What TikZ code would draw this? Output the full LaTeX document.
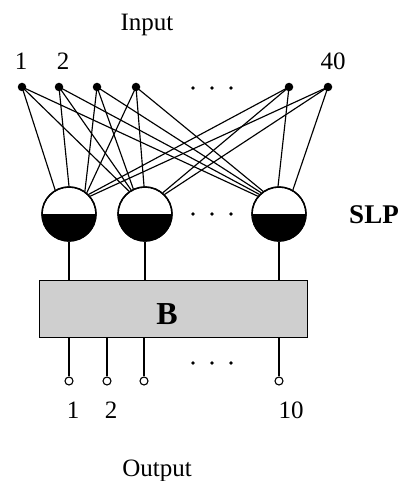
\documentclass[tikz,border=0pt]{standalone}
\usepackage{fontspec}
\setmainfont{Liberation Serif}
\begin{document}
\begin{tikzpicture}[x=1pt,y=-1pt,
  lbl/.style={anchor=base,inner sep=0pt,font=\fontsize{25}{30}\selectfont},
  bigl/.style={anchor=base,inner sep=0pt,font=\fontsize{27}{32}\selectfont\bfseries},
  indot/.style={circle,fill=black,inner sep=0pt,minimum size=8.5pt},
  smalldot/.style={circle,fill=black,inner sep=0pt,minimum size=3.8pt},
  outdot/.style={circle,draw=black,fill=white,line width=1.1pt,inner sep=0pt,minimum size=8pt},
  neuron/.style={circle,draw=black,line width=1.4pt,inner sep=0pt,minimum size=54pt},
  wire/.style={line width=1.15pt}]
\useasboundingbox (0,0) rectangle (408,481);
% labels
\node[lbl] (tin) at (147,31) {Input};
\node[lbl] (l1) at (21,70) {1};
\node[lbl] (l2) at (63,70) {2};
\node[lbl] (l40) at (333,70) {40};
\node[lbl] (o1l) at (73,418) {1};
\node[lbl] (o2l) at (111,418) {2};
\node[lbl] (o10l) at (291,418) {10};
\node[lbl] (tout) at (157,476) {Output};
\node[bigl] (slp) at (374,223) {SLP};
% input dots
\node[indot] (i1) at (22,87) {};
\node[indot] (i2) at (59,87) {};
\node[indot] (i3) at (97,87) {};
\node[indot] (i4) at (136,87) {};
\node[indot] (i39) at (289,87) {};
\node[indot] (i40) at (328,87) {};
\foreach \x/\n in {193/a,212/b,231/c}{
  \node[smalldot] (dt\n) at (\x,88) {};
  \node[smalldot] (dm\n) at (\x,214) {};
  \node[smalldot] (db\n) at (\x,363) {};
}
% neurons
\foreach \n/\x in {c1/69,c2/145,c3/279}{
  \node[neuron] (\n) at (\x,214) {};
  \begin{scope}
    \clip (\x-30,214) rectangle (\x+30,244);
    \fill[black] (\x,214) circle (27);
  \end{scope}
  \draw[line width=1.4pt] (\x,214) circle (27);
}
% connections
\draw[wire] (i1.center) -- (c1.120);
\draw[wire] (i2.center) -- (c1.90);
\draw[wire] (i3.center) -- (c1.55);
\draw[wire] (i4.center) -- (c1.50);
\draw[wire] (i39.center) -- (c1.45);
\draw[wire] (i40.center) -- (c1.40);
\draw[wire] (i1.center) -- (c2.125);
\draw[wire] (i2.center) -- (c2.120);
\draw[wire] (i3.center) -- (c2.115);
\draw[wire] (i4.center) -- (c2.92);
\draw[wire] (i39.center) -- (c2.50);
\draw[wire] (i40.center) -- (c2.45);
\draw[wire] (i1.center) -- (c3.140);
\draw[wire] (i2.center) -- (c3.135);
\draw[wire] (i3.center) -- (c3.130);
\draw[wire] (i4.center) -- (c3.125);
\draw[wire] (i39.center) -- (c3.92);
\draw[wire] (i40.center) -- (c3.60);
% box
\node[draw=black,line width=1.1pt,fill=black!19,minimum width=268pt,minimum height=57pt,inner sep=0pt,anchor=north west] (box) at (39,280) {};
\node[anchor=base,inner sep=0pt,font=\fontsize{32}{36}\selectfont\bfseries] (bl) at (167,324) {B};
\foreach \n in {c1,c2,c3}{
  \draw[wire] (\n.south) -- (\n.south |- box.north);
}
% outputs
\node[outdot] (o1) at (69,381) {};
\node[outdot] (o2) at (107,381) {};
\node[outdot] (o3) at (144,381) {};
\node[outdot] (o10) at (279,381) {};
\foreach \n in {o1,o2,o3,o10}{
  \draw[wire] (\n |- box.south) -- (\n.north);
}
\end{tikzpicture}
\end{document}
